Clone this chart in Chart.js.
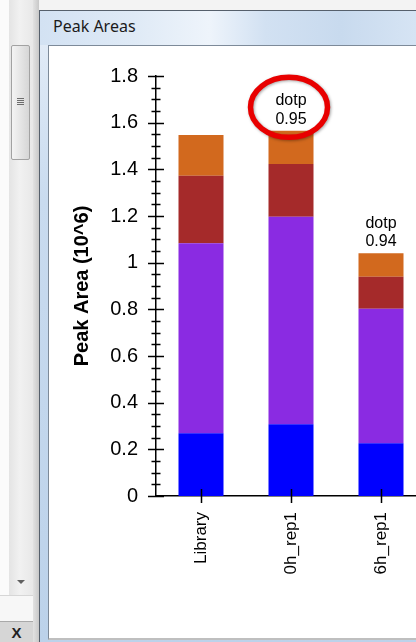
<!DOCTYPE html>
<html>
<head>
<meta charset="utf-8">
<title>Peak Areas</title>
<script src="https://cdn.jsdelivr.net/npm/chart.js@4.4.0/dist/chart.umd.min.js"></script>
<style>
  html, body { margin: 0; padding: 0; width: 416px; height: 642px; overflow: hidden; background: #f3f3f3; }
  .abs { position: absolute; }
  /* left docked panel with its scrollbar */
  #side { left: 0; top: 0; width: 33px; height: 642px; background: #fbfbfb; }
  #track { left: 9px; top: 0; width: 24px; height: 595px; background: linear-gradient(to right, #e4e4e4, #f1f1f1 45%, #e8e8e8); }
  #thumb { left: 11px; top: 45px; width: 19px; height: 115px; border: 1px solid #a2a2a2; border-radius: 2px;
           background: linear-gradient(to right, #f4f4f4, #e2e2e2 60%, #d6d6d6); box-sizing: border-box; }
  .grip { left: 17px; width: 7px; height: 1px; background: #6d6d6d; }
  #arrow { left: 17px; top: 580px; width: 0; height: 0; border-left: 4px solid transparent; border-right: 4px solid transparent; border-top: 4px solid #606060; }
  #sideBottom { left: 0; top: 595px; width: 33px; height: 26px; background: #f7f7f7; border-top: 1px solid #d6d6d6; box-sizing: border-box; }
  #closeBar { left: 0; top: 621px; width: 33px; height: 21px; background: #d6d6d6; border-top: 1px solid #a9a9a9; box-sizing: border-box;
              font: bold 15px "Liberation Sans", Arial, sans-serif; color: #222; text-align: center; line-height: 22px; }
  #splitter { left: 33px; top: 0; width: 6px; height: 642px; background: linear-gradient(to right, #e2e2e2, #c8c8c8); }
  /* floating window frame */
  #frame { left: 39px; top: 10px; width: 377px; height: 632px; background: linear-gradient(to bottom, #e6eef8, #c9dbef 30%, #bcd2ea); border-left: 1px solid #56606c; border-top: 1px solid #56606c; box-sizing: border-box; }
  #titlebar { left: 40px; top: 11px; width: 376px; height: 34px;
              background: linear-gradient(to right, #d3e2f3 0%, #dfeaf6 25%, #eef4fb 45%, #d2e1f2 60%, #c8daee 80%, #d6e4f4 100%); }
  #titleText { left: 53px; top: 15px; font: 16px "Noto Sans", sans-serif; color: #1b1b1b; }
  #client { left: 48px; top: 45px; width: 368px; height: 595px; border-left: 1px solid #7d8a99; border-top: 1px solid #7d8a99;
            border-bottom: 2px solid #bfbfbf; background: #fff; overflow: hidden; box-sizing: border-box; }
  #chartBox { left: 0; top: 0; width: 400px; height: 593px; }
</style>
</head>
<body>
<div id="side" class="abs"></div>
<div id="track" class="abs"></div>
<div id="thumb" class="abs"></div>
<div class="abs grip" style="top:98px"></div>
<div class="abs grip" style="top:100px"></div>
<div class="abs grip" style="top:102px"></div>
<div class="abs grip" style="top:104px"></div>
<div id="arrow" class="abs"></div>
<div id="sideBottom" class="abs"></div>
<div id="closeBar" class="abs">X</div>
<div id="splitter" class="abs"></div>
<div id="frame" class="abs"></div>
<div id="titlebar" class="abs"></div>
<div id="titleText" class="abs">Peak Areas</div>
<div id="client" class="abs">
  <div id="chartBox" class="abs"><canvas id="peakChart" width="400" height="593"></canvas></div>
</div>

<script>
// replicates and peak areas (10^6), one array per transition, bottom to top
const replicates = ['Library', '0h_rep1', '6h_rep1'];
const transitionNames = ['y5', 'y6', 'y7', 'y8'];
const areaBlue = [0.269, 0.307, 0.226];
const areaPurple = [0.814, 0.890, 0.576];
const areaBrown = [0.289, 0.226, 0.138];
const areaOrange = [0.175, 0.142, 0.100];
const dotpValues = [null, 0.95, 0.94];
const highlighted = '0h_rep1';

const yMin = 0;
const yMax = 1.8;
const yMajorStep = 0.2;
const yMinorStep = 0.05;

const seriesColors = ['#0000FF', '#8A2BE2', '#A52A2A', '#D2691E'];
const seriesValues = [areaBlue, areaPurple, areaBrown, areaOrange];

// tick marks crossing the axes, plus the dotp labels above the bars
const axisMarks = {
    id: 'axisMarks',
    afterDraw(chart) {
        const { ctx, chartArea, scales: { x, y } } = chart;
        ctx.save();
        ctx.strokeStyle = '#000';
        ctx.lineWidth = 1.5;
        ctx.beginPath();
        const steps = Math.round((yMax - yMin) / yMinorStep);
        for (let i = 0; i <= steps; i++) {
            const v = yMin + i * yMinorStep;
            const py = Math.round(y.getPixelForValue(v)) + 0.5;
            const major = i % Math.round(yMajorStep / yMinorStep) === 0;
            const half = major ? 8 : 4.5;
            ctx.moveTo(chartArea.left - half, py);
            ctx.lineTo(chartArea.left + half, py);
        }
        replicates.forEach((r, i) => {
            const px = Math.round(x.getPixelForValue(i)) + 0.5;
            ctx.moveTo(px, chartArea.bottom - 7);
            ctx.lineTo(px, chartArea.bottom + 7);
        });
        ctx.stroke();

        // dotp labels
        ctx.fillStyle = '#000';
        ctx.font = '16px "Liberation Sans", Arial, sans-serif';
        ctx.textAlign = 'center';
        ctx.textBaseline = 'middle';
        replicates.forEach((r, i) => {
            if (dotpValues[i] == null) return;
            const total = seriesValues.reduce((s, arr) => s + arr[i], 0);
            const top = y.getPixelForValue(total);
            const px = x.getPixelForValue(i);
            ctx.fillText('dotp', px, top - 30);
            ctx.fillText(dotpValues[i].toFixed(2), px, top - 11.5);

            if (r === highlighted) {
                ctx.save();
                ctx.strokeStyle = '#e80000';
                ctx.lineWidth = 5.5;
                ctx.shadowColor = 'rgba(0,0,0,0.35)';
                ctx.shadowBlur = 3;
                ctx.shadowOffsetX = 1;
                ctx.shadowOffsetY = 1;
                ctx.beginPath();
                ctx.ellipse(px - 2, top - 23.5, 38.5, 30, 0, 0, Math.PI * 2);
                ctx.stroke();
                ctx.restore();
            }
        });
        ctx.restore();
    }
};

Chart.defaults.font.family = '"Liberation Sans", Arial, sans-serif';
Chart.defaults.color = '#000';

const ctx = document.getElementById('peakChart').getContext('2d');
const peakChart = new Chart(ctx, {
    type: 'bar',
    data: {
        labels: replicates,
        datasets: seriesValues.map((vals, k) => ({
            label: transitionNames[k],
            data: vals,
            backgroundColor: seriesColors[k],
            borderWidth: 0,
            barPercentage: 0.5,
            categoryPercentage: 1.0
        }))
    },
    options: {
        responsive: false,
        animation: false,
        layout: { padding: { top: 30, right: 23, left: 0, bottom: 0 } },
        plugins: {
            legend: { display: false },
            tooltip: { enabled: false }
        },
        scales: {
            x: {
                stacked: true,
                offset: true,
                grid: { display: false, drawTicks: false },
                border: { color: '#000', width: 1.5 },
                ticks: {
                    minRotation: 90,
                    maxRotation: 90,
                    padding: 16,
                    font: { size: 17 }
                },
                afterFit(scale) { scale.height = 143; }
            },
            y: {
                stacked: true,
                min: yMin,
                max: yMax,
                grid: { display: false, drawTicks: false },
                border: { color: '#000', width: 1.5 },
                ticks: {
                    stepSize: yMajorStep,
                    padding: 18,
                    font: { size: 20 },
                    callback: v => String(+v.toFixed(1))
                },
                title: {
                    display: true,
                    text: 'Peak Area (10^6)',
                    font: { size: 20, weight: 'bold' },
                    padding: { top: 21, bottom: 0 }
                },
                afterFit(scale) { scale.width = 107; }
            }
        }
    },
    plugins: [axisMarks]
});
</script>
</body>
</html>
